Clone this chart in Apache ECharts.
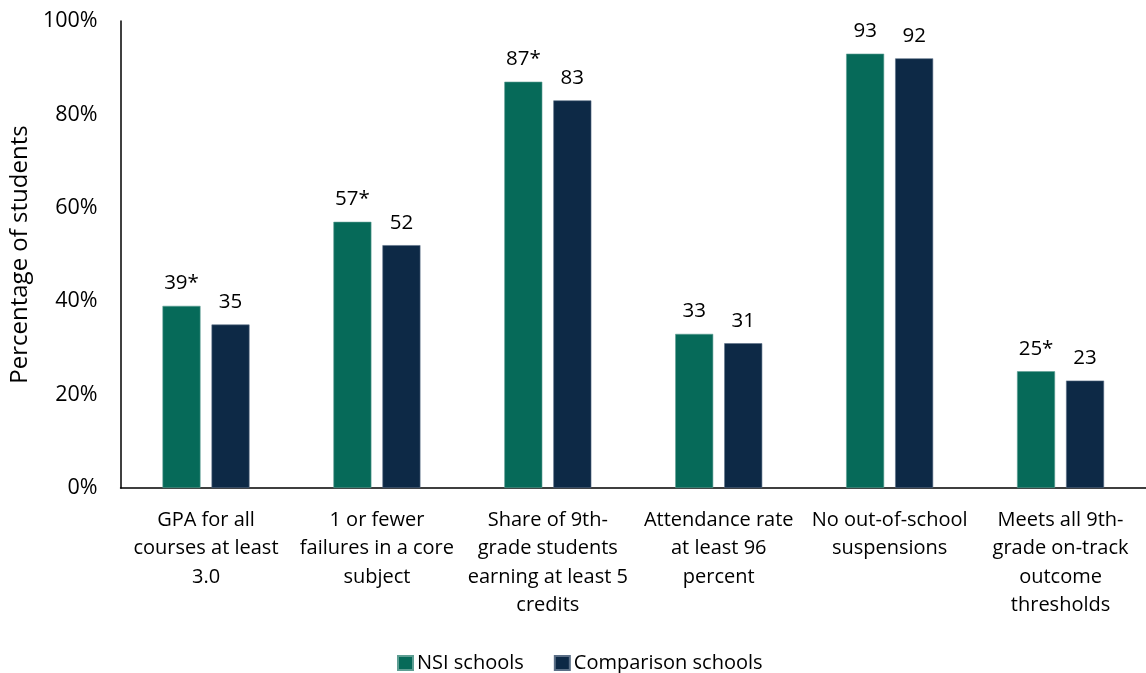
<!DOCTYPE html>
<html>
<head>
<meta charset="utf-8">
<script src="https://cdn.jsdelivr.net/npm/echarts@6/dist/echarts.min.js"></script>
<style>
  html, body { margin: 0; padding: 0; background: #fff; }
  #chart { width: 1146px; height: 673px; }
</style>
</head>
<body>
<div id="chart"></div>
<script>
// Ninth-grade on-track outcomes, NSI vs. comparison schools (percent of students)
const categories = [
  'GPA for all\ncourses at least\n3.0',
  '1 or fewer\nfailures in a core\nsubject',
  'Share of 9th-\ngrade students\nearning at least 5\ncredits',
  'Attendance rate\nat least 96\npercent',
  'No out-of-school\nsuspensions',
  'Meets all 9th-\ngrade on-track\noutcome\nthresholds'
];
const nsiValues = [39, 57, 87, 33, 93, 25];
const nsiSignificant = [true, true, true, false, false, true];
const comparisonValues = [35, 52, 83, 31, 92, 23];
const yTicks = [0, 20, 40, 60, 80, 100];

const FONT = '"Open Sans", Lato, sans-serif';
const TEXT = '#000';

const chart = echarts.init(document.getElementById('chart'), null, { renderer: 'canvas' });

chart.setOption({
  animation: false,
  textStyle: { fontFamily: FONT, color: TEXT },
  grid: { left: 120, top: 21, width: 1031, height: 467, containLabel: false },
  xAxis: {
    type: 'category',
    data: categories,
    axisLine: { show: true, lineStyle: { color: '#000', width: 1.5 } },
    axisTick: { show: false },
    axisLabel: {
      interval: 0,
      margin: 18,
      fontFamily: FONT,
      fontSize: 20,
      lineHeight: 28.5,
      color: TEXT,
      align: 'center'
    }
  },
  yAxis: {
    type: 'value',
    min: yTicks[0],
    max: yTicks[yTicks.length - 1],
    interval: yTicks[1] - yTicks[0],
    name: 'Percentage of students',
    nameLocation: 'middle',
    nameGap: 88,
    nameRotate: 90,
    nameTextStyle: { fontFamily: FONT, fontSize: 24, color: TEXT },
    splitLine: { show: false },
    axisTick: { show: false },
    axisLine: { show: true, lineStyle: { color: '#000', width: 1.5 } },
    axisLabel: {
      margin: 23,
      fontFamily: FONT,
      fontSize: 21.5,
      color: TEXT,
      formatter: v => v + '%'
    }
  },
  legend: {
    left: 392,
    top: 648,
    itemWidth: 15,
    itemHeight: 14,
    itemGap: 30,
    icon: 'rect',
    textStyle: { fontFamily: FONT, fontSize: 20, color: TEXT, padding: [0, 0, 0, -1] },
    data: ['NSI schools', 'Comparison schools']
  },
  series: [
    {
      name: 'NSI schools',
      type: 'bar',
      data: nsiValues,
      barWidth: 38,
      barGap: '29%',
      itemStyle: { color: '#066A59', borderColor: '#5E9E93', borderWidth: 0.6 },
      label: {
        show: true,
        position: 'top',
        distance: 12,
        fontFamily: FONT,
        fontSize: 20.5,
        color: TEXT,
        formatter: p => p.value + (nsiSignificant[p.dataIndex] ? '*' : '')
      }
    },
    {
      name: 'Comparison schools',
      type: 'bar',
      data: comparisonValues,
      barWidth: 38,
      itemStyle: { color: '#0D2946', borderColor: '#5A6E86', borderWidth: 0.6 },
      label: {
        show: true,
        position: 'top',
        distance: 12,
        fontFamily: FONT,
        fontSize: 20.5,
        color: TEXT
      }
    }
  ]
});
</script>
</body>
</html>
